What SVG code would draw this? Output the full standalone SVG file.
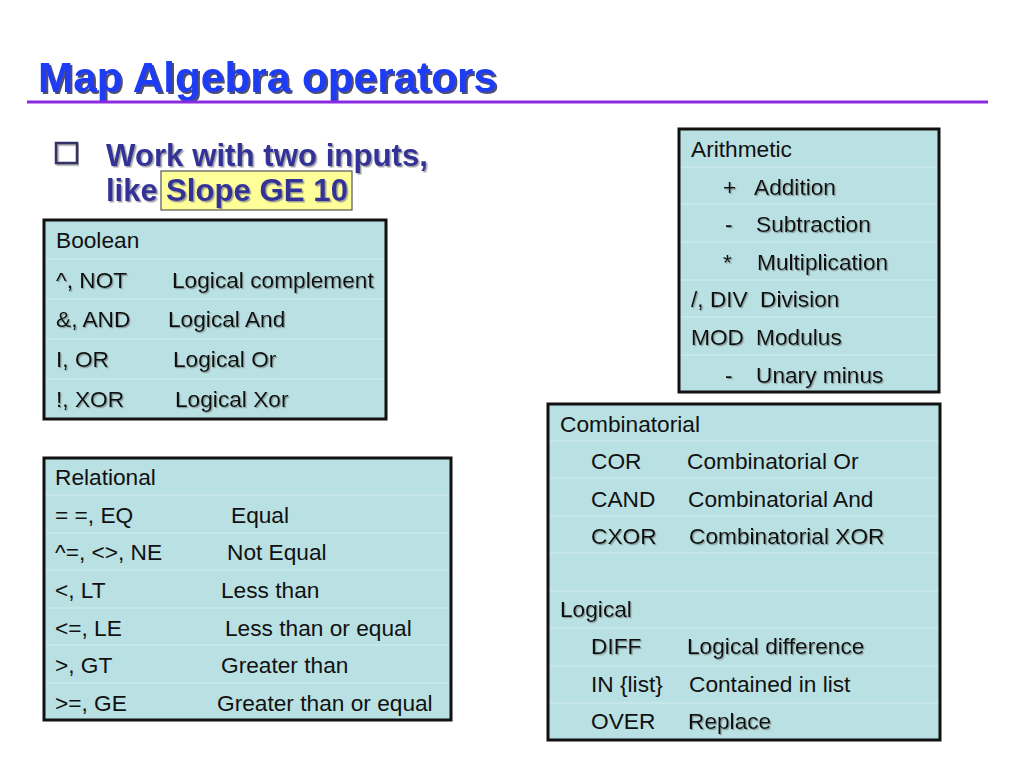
<svg xmlns="http://www.w3.org/2000/svg" width="1024" height="768" viewBox="0 0 1024 768">
<defs>
<filter id="sh" x="-5%" y="-20%" width="110%" height="150%"><feDropShadow dx="1.5" dy="1.5" stdDeviation="0.4" flood-color="#888888" flood-opacity="0.8"/></filter>
<filter id="tsh" x="-5%" y="-20%" width="110%" height="150%"><feDropShadow dx="2" dy="2" stdDeviation="0.3" flood-color="#3a3a60" flood-opacity="0.9"/></filter>
<filter id="ssh" x="-20%" y="-40%" width="140%" height="180%"><feDropShadow dx="1.2" dy="1.2" stdDeviation="0.4" flood-color="#7a8a8a" flood-opacity="0.8"/></filter>
</defs>
<style>
.tbl{fill:#b9e0e2;stroke:#111;stroke-width:3}
.sep{stroke:#d3eded;stroke-width:1.2}
.t{font-family:"Liberation Sans",Arial,sans-serif;font-size:22.7px;fill:#111}
.s{filter:url(#ssh)}
.title{font-family:"Liberation Sans",Arial,sans-serif;font-weight:bold;font-size:42px;fill:#1e3cf5}
.bul{font-family:"Liberation Sans",Arial,sans-serif;font-weight:bold;font-size:31px;fill:#333399}
</style>
<rect width="1024" height="768" fill="#ffffff"/>
<g id="title">
<text class="title" x="38" y="92" textLength="459" lengthAdjust="spacingAndGlyphs" filter="url(#tsh)">Map Algebra operators</text>
<line x1="27" y1="102" x2="988" y2="102" stroke="#8a2be2" stroke-width="3"/>
</g>
<g id="bullet">
<rect x="56" y="143" width="21" height="20" fill="none" stroke="#333366" stroke-width="2.5" filter="url(#sh)"/>
<text class="bul" x="106" y="166" textLength="322" lengthAdjust="spacingAndGlyphs" filter="url(#sh)">Work with two inputs,</text>
<text class="bul" x="106" y="201" filter="url(#sh)">like</text>
<rect x="161" y="171" width="191" height="39" fill="#ffff99" stroke="#555" stroke-width="1.2"/>
<text class="bul" x="166" y="201" textLength="182" lengthAdjust="spacingAndGlyphs" filter="url(#sh)">Slope GE 10</text>
</g>
<g id="boolean">
<rect class="tbl" x="44" y="220" width="342" height="199"/>
<g class="sep"><line x1="46" y1="259" x2="384" y2="259"/><line x1="46" y1="299" x2="384" y2="299"/><line x1="46" y1="339" x2="384" y2="339"/><line x1="46" y1="379" x2="384" y2="379"/></g>
<g class="t">
<text x="56" y="248">Boolean</text>
<text class="s" x="56" y="288">^, NOT</text><text class="s" x="172" y="288">Logical complement</text>
<text class="s" x="56" y="327">&amp;, AND</text><text class="s" x="168" y="327">Logical And</text>
<text class="s" x="56" y="367">I, OR</text><text class="s" x="173" y="367">Logical Or</text>
<text class="s" x="56" y="407">!, XOR</text><text class="s" x="175" y="407">Logical Xor</text>
</g>
</g>
<g id="relational">
<rect class="tbl" x="44" y="458" width="407" height="262"/>
<g class="sep"><line x1="46" y1="495" x2="449" y2="495"/><line x1="46" y1="533" x2="449" y2="533"/><line x1="46" y1="570" x2="449" y2="570"/><line x1="46" y1="608" x2="449" y2="608"/><line x1="46" y1="645" x2="449" y2="645"/><line x1="46" y1="683" x2="449" y2="683"/></g>
<g class="t">
<text x="55" y="485">Relational</text>
<text x="55" y="523">= =, EQ</text><text x="231" y="523">Equal</text>
<text x="55" y="560">^=, &lt;&gt;, NE</text><text x="227" y="560">Not Equal</text>
<text x="55" y="598">&lt;, LT</text><text x="221" y="598">Less than</text>
<text x="55" y="636">&lt;=, LE</text><text x="225" y="636">Less than or equal</text>
<text x="55" y="673">&gt;, GT</text><text x="221" y="673">Greater than</text>
<text x="55" y="711">&gt;=, GE</text><text x="217" y="711">Greater than or equal</text>
</g>
</g>
<g id="arithmetic">
<rect class="tbl" x="679" y="129" width="260" height="263"/>
<g class="sep"><line x1="681" y1="167" x2="937" y2="167"/><line x1="681" y1="204" x2="937" y2="204"/><line x1="681" y1="242" x2="937" y2="242"/><line x1="681" y1="280" x2="937" y2="280"/><line x1="681" y1="317" x2="937" y2="317"/><line x1="681" y1="355" x2="937" y2="355"/></g>
<g class="t">
<text x="691" y="157">Arithmetic</text>
<text class="s" x="723" y="195">+</text><text class="s" x="754" y="195">Addition</text>
<text class="s" x="725" y="232">-</text><text class="s" x="756" y="232">Subtraction</text>
<text class="s" x="723" y="270">*</text><text class="s" x="757" y="270">Multiplication</text>
<text class="s" x="691" y="307">/, DIV</text><text class="s" x="760" y="307">Division</text>
<text class="s" x="691" y="345">MOD</text><text class="s" x="756" y="345">Modulus</text>
<text class="s" x="725" y="383">-</text><text class="s" x="756" y="383">Unary minus</text>
</g>
</g>
<g id="combinatorial">
<rect class="tbl" x="548" y="404" width="392" height="336"/>
<g class="sep"><line x1="550" y1="441" x2="938" y2="441"/><line x1="550" y1="478" x2="938" y2="478"/><line x1="550" y1="516" x2="938" y2="516"/><line x1="550" y1="553" x2="938" y2="553"/><line x1="550" y1="591" x2="938" y2="591"/><line x1="550" y1="628" x2="938" y2="628"/><line x1="550" y1="666" x2="938" y2="666"/><line x1="550" y1="703" x2="938" y2="703"/></g>
<g class="t">
<text x="560" y="432">Combinatorial</text>
<text x="591" y="469">COR</text><text x="687" y="469">Combinatorial Or</text>
<text x="591" y="507">CAND</text><text x="688" y="507">Combinatorial And</text>
<text class="s" x="591" y="544">CXOR</text><text class="s" x="689" y="544">Combinatorial XOR</text>
<text class="s" x="560" y="617">Logical</text>
<text class="s" x="591" y="654">DIFF</text><text class="s" x="687" y="654">Logical difference</text>
<text x="591" y="692">IN {list}</text><text x="689" y="692">Contained in list</text>
<text x="591" y="729">OVER</text><text class="s" x="688" y="729">Replace</text>
</g>
</g>
</svg>
